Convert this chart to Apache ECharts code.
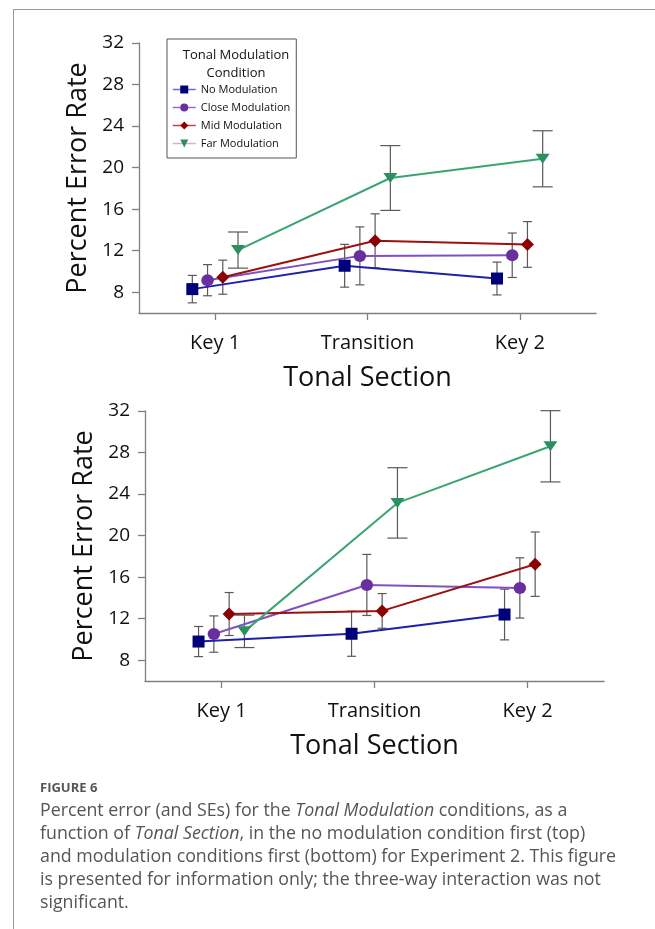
<!DOCTYPE html>
<html><head><meta charset="utf-8">
<script src="https://cdn.jsdelivr.net/npm/echarts@6/dist/echarts.min.js"></script>
<style>
html,body{margin:0;padding:0;background:#fff;}
#wrap{position:relative;width:655px;height:929px;overflow:hidden;background:#fff;}
#frame{position:absolute;left:13px;top:9px;width:650px;height:930px;border-left:1px solid #9a9a9a;border-top:1px solid #9a9a9a;}
#chart{position:absolute;left:0;top:0;width:655px;height:929px;}
#cap{position:absolute;left:40px;top:776px;font-family:'Open Sans',sans-serif;color:#555;}
#cap .fig{font-size:13px;font-weight:700;line-height:22px;color:#555;}
#cap .txt{font-size:17.8px;line-height:23px;white-space:nowrap;}
</style></head>
<body><div id="wrap"><div id="frame"></div><div id="chart"></div>
<div id="cap"><div class="fig">FIGURE 6</div>
<div class="txt">Percent error (and SEs) for the <i>Tonal Modulation</i> conditions, as a<br>function of <i>Tonal Section</i>, in the no modulation condition first (top)<br>and modulation conditions first (bottom) for Experiment 2. This figure<br>is presented for information only; the three-way interaction was not<br>significant.</div></div>
</div>
<script>
// ---- data ----
const categories = ['Key 1', 'Transition', 'Key 2'];
const conditions = ['No Modulation', 'Close Modulation', 'Mid Modulation', 'Far Modulation'];
const yTicks = [8, 12, 16, 20, 24, 28, 32];
const yMin = 6, yMax = 32;

// top panel (no modulation condition first)
const topNoMean    = [8.3, 10.55, 9.32];
const topNoSE      = [1.32, 2.06, 1.58];
const topCloseMean = [9.16, 11.5, 11.56];
const topCloseSE   = [1.5, 2.79, 2.14];
const topMidMean   = [9.45, 12.95, 12.6];
const topMidSE     = [1.64, 2.6, 2.2];
const topFarMean   = [12.06, 19.0, 20.85];
const topFarSE     = [1.74, 3.12, 2.7];

// bottom panel (modulation conditions first)
const botNoMean    = [9.8, 10.55, 12.4];
const botNoSE      = [1.45, 2.17, 2.44];
const botCloseMean = [10.52, 15.25, 14.96];
const botCloseSE   = [1.75, 2.94, 2.9];
const botMidMean   = [12.45, 12.75, 17.25];
const botMidSE     = [2.07, 1.67, 3.1];
const botFarMean   = [10.78, 23.15, 28.6];
const botFarSE     = [1.56, 3.39, 3.43];

// ---- style ----
const FONT = "'Open Sans', sans-serif";
const xOffsets = [-0.15, -0.05, 0.05, 0.15];
const markerColors = ['#00007a', '#6a2f9e', '#8b0000', '#2a9060'];
const lineColors = ['#1f1fa8', '#8050c0', '#9b1010', '#3aa572'];
const legendLineColors = ['#6a6ad0', '#9a6ad0', '#b84848', '#e3a9d3'];
const symbols = ['rect', 'circle', 'diamond', 'triangle'];
const symbolSizes = [12, [12.5, 12], 13, [14, 10]];
const symbolRotates = [0, 0, 0, 180];
const capWidths = [9, 9, 9, 20];
const axisGray = '#808080';

function buildSeries(g, means, ses) {
  const out = [];
  means.forEach((m, i) => {
    const se = ses[i];
    out.push({
      type: 'custom', name: 'err' + g + i, xAxisIndex: g * 2 + 1, yAxisIndex: g,
      silent: true, z: 2, animation: false,
      encode: { x: 0, y: [1, 2] },
      data: m.map((v, j) => [j + xOffsets[i], v - se[j], v + se[j]]),
      renderItem: function (params, api) {
        const x = api.value(0);
        const lo = api.coord([x, api.value(1)]);
        const hi = api.coord([x, api.value(2)]);
        const w = capWidths[i] / 2;
        const st = { stroke: '#5a5a5a', lineWidth: 1.2 };
        return { type: 'group', children: [
          { type: 'line', shape: { x1: lo[0], y1: lo[1], x2: hi[0], y2: hi[1] }, style: st },
          { type: 'line', shape: { x1: hi[0] - w, y1: hi[1], x2: hi[0] + w, y2: hi[1] }, style: st },
          { type: 'line', shape: { x1: lo[0] - w, y1: lo[1], x2: lo[0] + w, y2: lo[1] }, style: st }
        ]};
      }
    });
    out.push({
      type: 'line', name: conditions[i], xAxisIndex: g * 2 + 1, yAxisIndex: g,
      data: m.map((v, j) => [j + xOffsets[i], v]),
      symbol: symbols[i], symbolSize: symbolSizes[i], symbolRotate: symbolRotates[i],
      showAllSymbol: true, z: 3, animation: false,
      itemStyle: { color: markerColors[i], opacity: 1 },
      lineStyle: { color: lineColors[i], width: 2 },
      emphasis: { disabled: true }
    });
  });
  return out;
}

function catAxis(g) {
  return {
    type: 'category', gridIndex: g, data: categories, boundaryGap: true,
    axisLine: { show: true, onZero: false, lineStyle: { color: axisGray, width: 1.3 } },
    axisTick: { show: true, alignWithLabel: true, length: 7, lineStyle: { color: axisGray, width: 1.3 } },
    axisLabel: { fontSize: 20, color: '#111', margin: 20, fontFamily: FONT },
    splitLine: { show: false },
    name: 'Tonal Section', nameLocation: 'middle', nameGap: 52,
    nameTextStyle: { fontSize: 27, color: '#111', fontFamily: FONT }
  };
}
function hidAxis(g) {
  return { type: 'value', gridIndex: g, min: -0.5, max: 2.5, show: false, axisLine: { onZero: false } };
}
function valAxis(g) {
  return {
    type: 'value', gridIndex: g, min: yMin, max: yMax,
    axisLine: { show: true, onZero: false, lineStyle: { color: axisGray, width: 1.3 } },
    axisTick: { show: true, length: 7, customValues: yTicks, lineStyle: { color: axisGray, width: 1.3 } },
    axisLabel: { customValues: yTicks, fontSize: 19, color: '#111', margin: 15, fontFamily: FONT },
    splitLine: { show: false },
    name: 'Percent Error Rate', nameLocation: 'middle', nameGap: 44,
    nameTextStyle: { fontSize: 27, color: '#111', fontFamily: FONT }
  };
}

const chart = echarts.init(document.getElementById('chart'), null, { renderer: 'canvas' });
chart.setOption({
  animation: false,
  textStyle: { fontFamily: FONT },
  title: {
    text: 'Tonal Modulation\nCondition', left: 231, top: 41, textAlign: 'center',
    textStyle: { fontSize: 13, fontWeight: 'normal', color: '#111', lineHeight: 18.5, fontFamily: FONT }
  },
  legend: {
    orient: 'vertical', left: 167, top: 39,
    padding: [45, 6, 9, 5], itemGap: 7, itemWidth: 23, itemHeight: 10,
    borderColor: '#555', borderWidth: 1, backgroundColor: '#fff',
    textStyle: { fontSize: 11, color: '#111', fontFamily: FONT },
    data: conditions.map((c, i) => ({ name: c, lineStyle: { color: legendLineColors[i], width: 1.5 } })),
    selectedMode: false
  },
  grid: [
    { left: 139, top: 43, width: 457, height: 270 },
    { left: 145, top: 411, width: 459, height: 270 }
  ],
  xAxis: [catAxis(0), hidAxis(0), catAxis(1), hidAxis(1)],
  yAxis: [valAxis(0), valAxis(1)],
  series: [].concat(
    buildSeries(0, [topNoMean, topCloseMean, topMidMean, topFarMean], [topNoSE, topCloseSE, topMidSE, topFarSE]),
    buildSeries(1, [botNoMean, botCloseMean, botMidMean, botFarMean], [botNoSE, botCloseSE, botMidSE, botFarSE])
  )
});
</script></body></html>
